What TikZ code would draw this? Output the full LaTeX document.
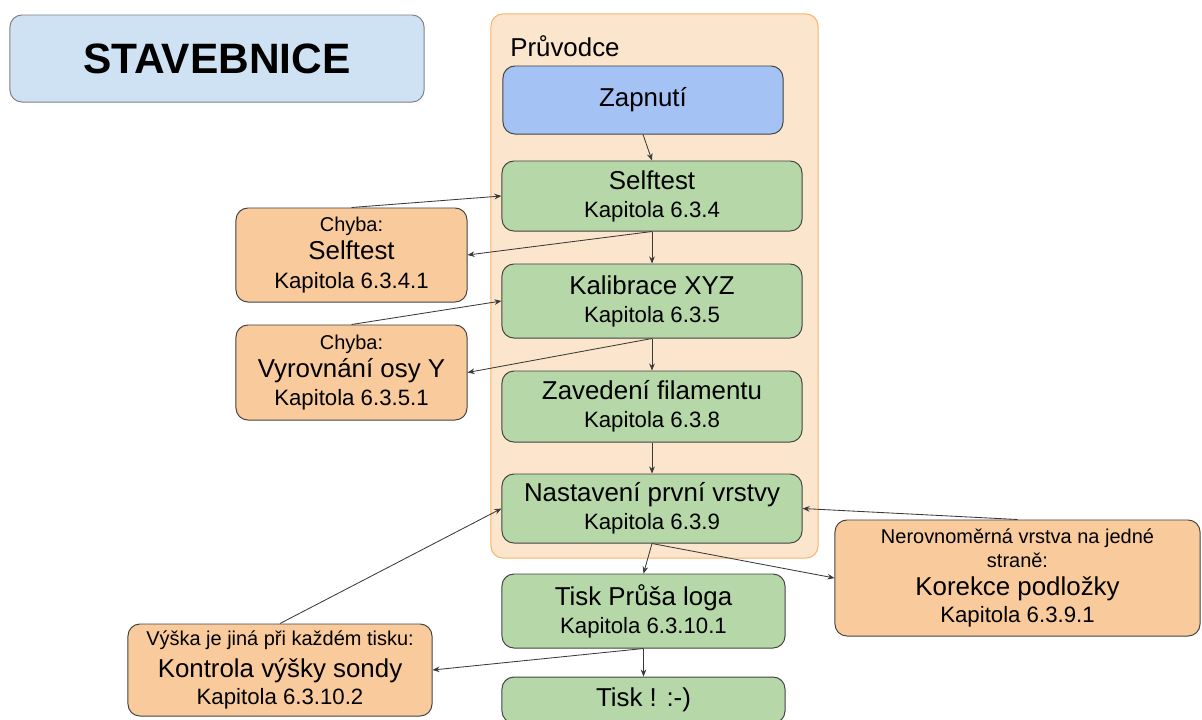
\documentclass[tikz,border=0pt]{standalone}
\usepackage{fontspec}
\setmainfont{Liberation Sans}
\usetikzlibrary{arrows.meta}

\definecolor{titleblue}{HTML}{CFE2F3}
\definecolor{guidefill}{HTML}{FCE5CD}
\definecolor{guideline}{HTML}{F6B26B}
\definecolor{startblue}{HTML}{A4C2F4}
\definecolor{greenfill}{HTML}{B6D7A8}
\definecolor{orangefill}{HTML}{F9CB9C}
\definecolor{boxline}{HTML}{434343}
\definecolor{linegray}{HTML}{3A3A3A}

\newcommand{\bigtxt}{\fontsize{18.4}{20}\selectfont}
\newcommand{\midtxt}{\fontsize{15.8}{20}\selectfont}
\newcommand{\smalltxt}{\fontsize{14.2}{20}\selectfont}

\begin{document}
\begin{tikzpicture}[x=0.025cm,y=-0.025cm]
\tikzstyle{box}=[draw=boxline,line width=0.7pt,rounded corners=0.3cm,align=center,font=\midtxt,inner sep=0pt]
\tikzstyle{stepbox}=[box,fill=greenfill]
\tikzstyle{errbox}=[box,fill=orangefill]
\tikzstyle{link}=[draw=linegray,line width=0.6pt,-{Stealth[length=5pt,width=4pt]}]
\useasboundingbox (0,0) rectangle (1202,719);

\node[box,draw=gray,fill=titleblue,minimum width=10.35cm,minimum height=2.175cm,font=\fontsize{30.2}{36}\selectfont\bfseries] (title) at (217,58.5) {STAVEBNICE};

\node[draw=guideline,fill=guidefill,line width=0.7pt,rounded corners=0.3cm,minimum width=8.175cm,minimum height=13.6cm] (guide) at (654.5,286) {};
\node[anchor=west,font=\bigtxt,inner sep=0pt] (guidelabel) at (510,46) {Průvodce};

\node[box,fill=startblue,minimum width=7cm,minimum height=1.7cm,font=\bigtxt] (zap) at (643,100) {Zapnutí};
\node[stepbox,minimum width=7.5cm,minimum height=1.75cm] (selftest) at (652,196) {{\bigtxt Selftest}\\Kapitola 6.3.4};
\node[stepbox,minimum width=7.5cm,minimum height=1.85cm] (kalib) at (652,301) {{\bigtxt Kalibrace XYZ}\\Kapitola 6.3.5};
\node[stepbox,minimum width=7.5cm,minimum height=1.775cm] (filament) at (652,406.5) {{\bigtxt Zavedení filamentu}\\Kapitola 6.3.8};
\node[stepbox,minimum width=7.5cm,minimum height=1.725cm] (vrstva) at (652,508.5) {{\bigtxt Nastavení první vrstvy}\\Kapitola 6.3.9};
\node[stepbox,minimum width=7.075cm,minimum height=1.85cm] (logo) at (643.5,611) {{\bigtxt Tisk Průša loga}\\Kapitola 6.3.10.1};
\node[stepbox,minimum width=7.075cm,minimum height=1.15cm,font=\bigtxt] (tisk) at (643.5,700) {Tisk ! :-)};

\node[errbox,minimum width=5.775cm,minimum height=2.35cm] (errself) at (351.5,255) {{\smalltxt Chyba:}\\{\bigtxt Selftest}\\Kapitola 6.3.4.1};
\node[errbox,minimum width=5.775cm,minimum height=2.375cm] (erraxis) at (351.5,372.5) {{\smalltxt Chyba:}\\{\bigtxt Vyrovnání osy Y}\\Kapitola 6.3.5.1};
\node[errbox,minimum width=9.125cm,minimum height=2.9cm] (korekce) at (1017.5,578) {{\smalltxt Nerovnoměrná vrstva na jedné}\\[-3.6pt]{\smalltxt straně:}\\{\bigtxt Korekce podložky}\\[-0.8pt]Kapitola 6.3.9.1};
\node[errbox,minimum width=7.6cm,minimum height=2.3cm] (sonda) at (280,670) {{\smalltxt Výška je jiná při každém tisku:}\\[2.8pt]{\bigtxt Kontrola výšky sondy}\\[-0.8pt]Kapitola 6.3.10.2};

\draw[link] (zap.south) -- (selftest.north);
\draw[link] (errself.north) -- (selftest.west);
\draw[link] (selftest.south) -- (errself.east);
\draw[link] (selftest.south) -- (kalib.north);
\draw[link] (erraxis.north) -- (kalib.west);
\draw[link] (kalib.south) -- (erraxis.east);
\draw[link] (kalib.south) -- (filament.north);
\draw[link] (filament.south) -- (vrstva.north);
\draw[link] (korekce.north) -- (vrstva.east);
\draw[link] (vrstva.south) -- (korekce.west);
\draw[link] (vrstva.south) -- (logo.north);
\draw[link] (sonda.north) -- (vrstva.west);
\draw[link] (logo.south) -- (tisk.north);
\draw[link] (logo.south) -- (sonda.east);
\end{tikzpicture}
\end{document}
